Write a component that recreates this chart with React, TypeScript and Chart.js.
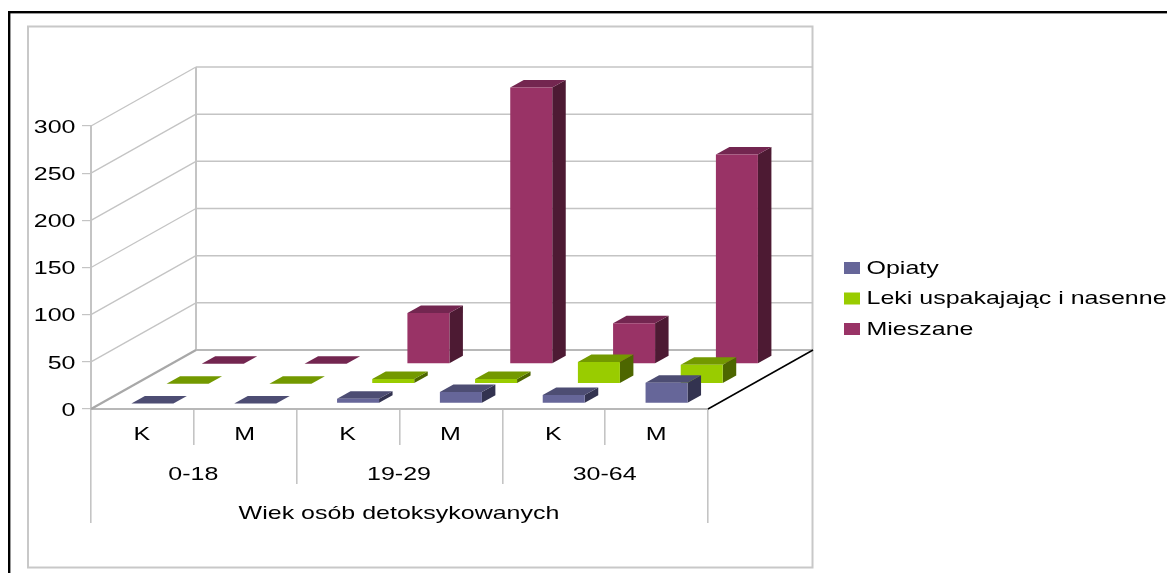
import React, { useEffect, useRef } from "react";
import { Chart, registerables } from "chart.js";

Chart.register(...registerables);

// Data
const sexLabels = ["K", "M", "K", "M", "K", "M"];
const ageLabels = ["0-18", "19-29", "30-64"];
const axisLabel = ["Wiek osób detoksykowanych"];
const opiaty = [0, 0, 5, 12, 9, 22];
const leki = [0, 0, 5, 5, 23, 20];
const mieszane = [0, 0, 54, 293, 43, 222];
const seriesNames = ["Opiaty", "Leki uspakajając i nasenne", "Mieszane"];
const yTicksMax = 300;

// Palette: face, top (75%), side (50%)
const FACES = ["#666699", "#99CC00", "#993366"];
const TOPS = ["#4D4D73", "#739900", "#732650"];
const SIDES = ["#333350", "#4D6600", "#4D1A33"];
const GRID = "#C4C4C4";
const FONT = { family: "'Liberation Sans', Arial, sans-serif", size: 19 };
const TEXT_STRETCH = 1.315;

// Oblique projection of the floor: full depth of the box and where each row sits in it
const DEPTH_X = 105;
const DEPTH_Y = -59;
const ROW_DEPTH = [0.095, 0.43, 0.765];
const BAR_DX = 13.5;
const BAR_DY = -7.5;

function poly(ctx: CanvasRenderingContext2D, pts: number[][], fill: string) {
  ctx.fillStyle = fill;
  ctx.beginPath();
  pts.forEach(([x, y], i) => (i ? ctx.lineTo(x, y) : ctx.moveTo(x, y)));
  ctx.closePath();
  ctx.fill();
}

function line(ctx: CanvasRenderingContext2D, x1: number, y1: number, x2: number, y2: number, color: string, w: number) {
  ctx.strokeStyle = color;
  ctx.lineWidth = w;
  ctx.beginPath();
  ctx.moveTo(x1, y1);
  ctx.lineTo(x2, y2);
  ctx.stroke();
}

const box3d = {
  id: "box3d",
  beforeLayout(chart: any) {
    // Reserve a fixed column on the right for the legend
    const legend = chart.legend;
    if (legend && !legend.__fixed) {
      const fit = legend.fit;
      legend.fit = function () {
        fit.call(this);
        this.width = 459;
      };
      legend.__fixed = true;
    }
  },
  afterLayout(chart: any) {
    const legend = chart.legend;
    const pad = legend.options.labels.padding;
    legend.left = 844 - pad;
    legend.right = 1167;
    legend.top = 258.5 - pad;
    legend.bottom = 420;
  },
  beforeDraw(chart: any) {
    const ctx = chart.ctx;
    ctx.save();
    ctx.fillStyle = "#fff";
    ctx.fillRect(0, 0, chart.width, chart.height);
    ctx.strokeStyle = "#000";
    ctx.lineWidth = 2.4;
    ctx.strokeRect(9.2, 12.2, 1180, 590);
    ctx.strokeStyle = "#C8C8C8";
    ctx.lineWidth = 2;
    ctx.strokeRect(28, 26.5, 784.5, 541);
    ctx.restore();
  },
  beforeDatasetsDraw(chart: any) {
    const ctx = chart.ctx;
    const y = chart.scales.y;
    const { left, right, bottom, top } = chart.chartArea;
    ctx.save();
    // Side wall and back wall gridlines
    y.ticks.forEach((t: any) => {
      const py = y.getPixelForValue(t.value);
      if (t.value === 0) return;
      line(ctx, left, py, left + DEPTH_X, py + DEPTH_Y, GRID, 1.3);
      line(ctx, left + DEPTH_X, py + DEPTH_Y, right + DEPTH_X, py + DEPTH_Y, GRID, 1.5);
    });
    line(ctx, left + DEPTH_X, top + DEPTH_Y, left + DEPTH_X, bottom + DEPTH_Y, GRID, 2);
    line(ctx, left + DEPTH_X, bottom + DEPTH_Y, right + DEPTH_X, bottom + DEPTH_Y, "#B8B8B8", 2);
    // Floor edges
    line(ctx, left, bottom, left + DEPTH_X, bottom + DEPTH_Y, "#A8A8A8", 2.2);
    line(ctx, right, bottom, right + DEPTH_X, bottom + DEPTH_Y, "#000", 1.5);
    ctx.restore();
  },
  beforeDatasetDraw(chart: any, args: any) {
    const ctx = chart.ctx;
    const i = args.index;
    const ox = DEPTH_X * ROW_DEPTH[i];
    const oy = DEPTH_Y * ROW_DEPTH[i];
    ctx.save();
    args.meta.data.forEach((bar: any) => {
      const x0 = bar.x - bar.width / 2 + ox;
      const x1 = bar.x + bar.width / 2 + ox;
      const yt = bar.y + oy;
      const yb = bar.base + oy;
      poly(ctx, [[x1, yt], [x1 + BAR_DX, yt + BAR_DY], [x1 + BAR_DX, yb + BAR_DY], [x1, yb]], SIDES[i]);
      poly(ctx, [[x0, yt], [x1, yt], [x1 + BAR_DX, yt + BAR_DY], [x0 + BAR_DX, yt + BAR_DY]], TOPS[i]);
      if (yb - yt > 0.1) poly(ctx, [[x0, yt], [x1, yt], [x1, yb], [x0, yb]], FACES[i]);
    });
    ctx.restore();
    return false;
  },
};

function levelAxis(labels: string[], weight: number, height: number, tickLength: number, padding: number, edge: boolean) {
  return {
    type: "category",
    position: "bottom",
    labels,
    weight,
    offset: true,
    afterFit: (s: any) => {
      s.height = height;
    },
    border: { display: edge, color: "#B8B8B8", width: 2 },
    grid: { offset: true, drawOnChartArea: false, drawTicks: true, tickLength, color: GRID, lineWidth: 1.6 },
    ticks: { font: FONT, color: "#000", padding, autoSkip: false, maxRotation: 0, minRotation: 0 },
  };
}

export default function App() {
  const ref = useRef<HTMLCanvasElement>(null);
  useEffect(() => {
    const canvas = ref.current!;
    const ctx = canvas.getContext("2d") as any;
    // All labels are set in a horizontally widened face, anchored at their alignment point
    const plainFillText = ctx.fillText;
    ctx.fillText = function (text: string, x: number, y: number, maxWidth?: number) {
      const isLegend = ctx.textAlign === "left";
      ctx.save();
      ctx.translate(x + (isLegend ? -3 : -0.5), y + (isLegend ? 0.5 : 1.5));
      ctx.scale(TEXT_STRETCH, 1);
      if (maxWidth === undefined) plainFillText.call(ctx, text, 0, 0);
      else plainFillText.call(ctx, text, 0, 0, maxWidth / TEXT_STRETCH);
      ctx.restore();
    };
    const chart = new Chart(canvas, {
      type: "bar",
      plugins: [box3d],
      data: {
        labels: sexLabels,
        datasets: [opiaty, leki, mieszane].map((data, i) => ({
          label: seriesNames[i],
          data,
          xAxisID: "x",
          backgroundColor: FACES[i],
          borderWidth: 0,
          grouped: false,
          barPercentage: 42 / 102.83,
          categoryPercentage: 1,
        })),
      },
      options: {
        responsive: false,
        animation: false,
        layout: { padding: { top: 126, bottom: 50, left: 0, right: 0 } },
        plugins: {
          title: { display: false },
          tooltip: { enabled: false },
          legend: {
            position: "right",
            align: "start",
            labels: { font: FONT, color: "#000", boxWidth: 16, boxHeight: 12, padding: 11.5 },
          },
        },
        scales: {
          x: levelAxis(sexLabels, 0, 36, 36, -23, true),
          x2: levelAxis(ageLabels, 1, 39, 39, -22, false),
          x3: levelAxis(axisLabel, 2, 39, 39, -22, false),
          y: {
            min: 0,
            max: yTicksMax,
            afterFit: (s: any) => {
              s.width = 91;
            },
            border: { display: true, color: GRID, width: 2 },
            grid: { drawOnChartArea: false, drawTicks: true, tickLength: 9, color: GRID, lineWidth: 1.2 },
            ticks: { stepSize: 50, font: FONT, color: "#000", padding: 6 },
          },
        } as any,
      },
    } as any);
    return () => {
      chart.destroy();
      ctx.fillText = plainFillText;
    };
  }, []);
  return <canvas ref={ref} width={1167} height={573} style={{ position: "fixed", left: 0, top: 0 }} />;
}
